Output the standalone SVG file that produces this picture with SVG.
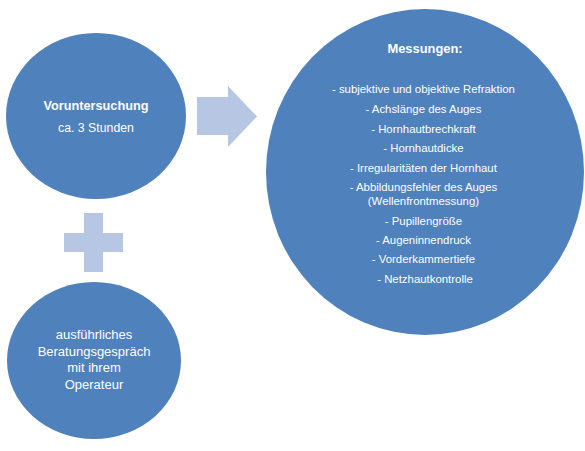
<svg xmlns="http://www.w3.org/2000/svg" width="585" height="451" viewBox="0 0 585 451">
<style>
.node{fill:#4F81BD}
.conn{fill:#B7C7E3}
text{font-family:"Liberation Sans",Arial,sans-serif;fill:#FFFFFF;text-anchor:middle}
.b{font-weight:bold}
</style>
<rect width="585" height="451" fill="#FFFFFF"/>
<g id="connectors">
<polygon class="conn" points="197,97 228,97 228,86 257,116.5 228,147 228,135 197,135"/>
<polygon class="conn" points="84,213 103,213 103,233 123,233 123,252 103,252 103,272 84,272 84,252 64,252 64,233 84,233"/>
</g>
<g id="voruntersuchung">
<ellipse class="node" cx="96" cy="116" rx="90" ry="83"/>
<text x="96" y="109.5" class="b" font-size="12.7">Voruntersuchung</text>
<text x="96" y="131.5" font-size="12.3">ca. 3 Stunden</text>
</g>
<g id="beratung">
<ellipse class="node" cx="94" cy="360.5" rx="87" ry="78.5"/>
<text x="94" font-size="13"><tspan x="94" y="339">ausführliches</tspan><tspan x="94" y="355.5">Beratungsgespräch</tspan><tspan x="94" y="372">mit ihrem</tspan><tspan x="94" y="388.5">Operateur</tspan></text>
</g>
<g id="messungen">
<ellipse class="node" cx="425" cy="172" rx="159" ry="163"/>
<text x="425" y="52.5" class="b" font-size="12.9">Messungen:</text>
<text font-size="11.4">
<tspan x="425" y="93">- subjektive und objektive Refraktion</tspan>
<tspan x="425" y="113">- Achslänge des Auges</tspan>
<tspan x="425" y="132.5">- Hornhautbrechkraft</tspan>
<tspan x="425" y="152">- Hornhautdicke</tspan>
<tspan x="425" y="171.5">- Irregularitäten der Hornhaut</tspan>
<tspan x="425" y="190.5">- Abbildungsfehler des Auges</tspan>
<tspan x="425" y="205">(Wellenfrontmessung)</tspan>
<tspan x="425" y="224.5">- Pupillengröße</tspan>
<tspan x="425" y="244">- Augeninnendruck</tspan>
<tspan x="425" y="263">- Vorderkammertiefe</tspan>
<tspan x="425" y="282.5">- Netzhautkontrolle</tspan>
</text>
</g>
</svg>
